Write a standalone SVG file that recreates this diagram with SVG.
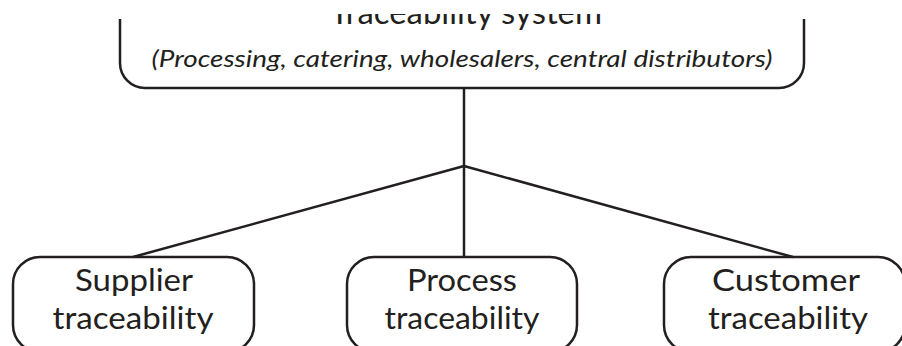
<svg xmlns="http://www.w3.org/2000/svg" width="902" height="346" viewBox="0 0 902 346">
  <style>
    .box { fill: none; stroke: #231f20; stroke-width: 2.5; }
    .link { fill: none; stroke: #231f20; stroke-width: 2.5; }
    .lbl { font-family: Lato, "Open Sans", sans-serif; font-size: 31px; fill: #231f20; text-anchor: middle; }
    .title { font-family: Lato, "Open Sans", sans-serif; font-size: 33px; fill: #231f20; text-anchor: middle; }
    .sub { font-family: Lato, "Open Sans", sans-serif; font-style: italic; font-size: 24px; fill: #231f20; text-anchor: middle; }
  </style>
  <defs>
    <clipPath id="titleClip">
      <rect x="0" y="14" width="902" height="40"/>
    </clipPath>
  </defs>
  <rect width="902" height="346" fill="#ffffff"/>

  <g id="connectors">
    <line class="link" x1="464" y1="88" x2="464" y2="257"/>
    <line class="link" x1="464" y1="166" x2="133" y2="257"/>
    <line class="link" x1="464" y1="166" x2="793" y2="257"/>
  </g>

  <g id="system">
    <path class="box" d="M120 19 V63 A25 25 0 0 0 145 88 H779 A25 25 0 0 0 804 63 V19"/>
    <text class="title" x="466" y="24" clip-path="url(#titleClip)" textLength="272" lengthAdjust="spacingAndGlyphs">Traceability system</text>
    <text class="sub" x="462" y="67" textLength="621" lengthAdjust="spacingAndGlyphs">(Processing, catering, wholesalers, central distributors)</text>
  </g>

  <g id="supplier">
    <rect class="box" x="13" y="257" width="241" height="95" rx="27"/>
    <text class="lbl" x="134" y="291" textLength="118" lengthAdjust="spacingAndGlyphs">Supplier</text>
    <text class="lbl" x="133" y="329" textLength="161" lengthAdjust="spacingAndGlyphs">traceability</text>
  </g>

  <g id="process">
    <rect class="box" x="347" y="257" width="230" height="95" rx="27"/>
    <text class="lbl" x="462" y="291" textLength="110" lengthAdjust="spacingAndGlyphs">Process</text>
    <text class="lbl" x="462" y="329" textLength="155" lengthAdjust="spacingAndGlyphs">traceability</text>
  </g>

  <g id="customer">
    <rect class="box" x="664" y="257" width="241" height="95" rx="27"/>
    <text class="lbl" x="786" y="291" textLength="148" lengthAdjust="spacingAndGlyphs">Customer</text>
    <text class="lbl" x="788" y="329" textLength="160" lengthAdjust="spacingAndGlyphs">traceability</text>
  </g>
</svg>
